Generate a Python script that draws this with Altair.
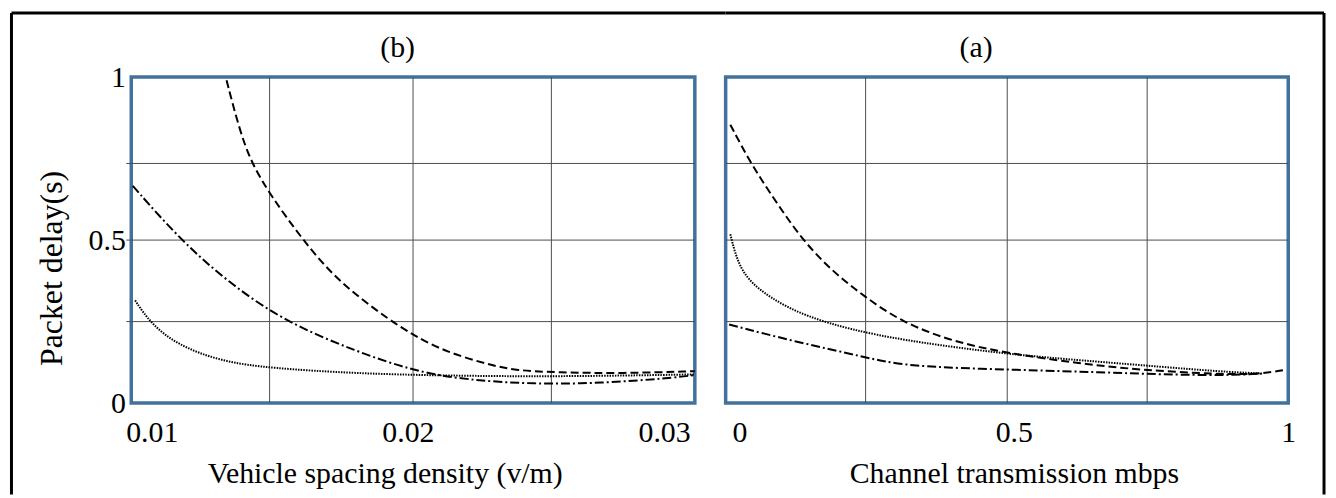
import altair as alt
import pandas as pd

# ---------------- data ----------------
SERIES = ["dash", "dashdot", "dot"]

# Panel (b): Vehicle spacing density (v/m)
b_dash_x = [0.01292, 0.0134, 0.01388, 0.01466, 0.01587, 0.01727, 0.01936, 0.02032, 0.02145, 0.02319, 0.02422, 0.0258, 0.02841, 0.0312]
b_dash_y = [0.99, 0.845, 0.737, 0.635, 0.503, 0.372, 0.25, 0.204, 0.158, 0.117, 0.10, 0.094, 0.091, 0.098]
b_dashdot_x = [0.00926, 0.01109, 0.01296, 0.01518, 0.01797, 0.02022, 0.02231, 0.02491, 0.02754, 0.03015, 0.0312]
b_dashdot_y = [0.666, 0.503, 0.372, 0.25, 0.159, 0.098, 0.071, 0.058, 0.061, 0.076, 0.086]
b_dot_x = [0.00935, 0.00996, 0.0110, 0.01274, 0.01466, 0.01797, 0.02145, 0.0258, 0.0312]
b_dot_y = [0.315, 0.244, 0.178, 0.127, 0.107, 0.091, 0.084, 0.081, 0.088]

# Panel (a): Channel transmission mbps
a_dash_x = [-0.0165, 0.0217, 0.0657, 0.1135, 0.1686, 0.2285, 0.294, 0.389, 0.4919, 0.6168, 0.7269, 0.874, 0.9475, 0.995]
a_dash_y = [0.854, 0.732, 0.62, 0.503, 0.405, 0.326, 0.25, 0.188, 0.152, 0.122, 0.102, 0.088, 0.089, 0.102]
a_dashdot_x = [-0.0187, 0.1025, 0.2274, 0.301, 0.5065, 0.6536, 0.8004, 0.9107, 0.9547]
a_dashdot_y = [0.241, 0.188, 0.142, 0.112, 0.102, 0.095, 0.086, 0.086, 0.091]
a_dot_x = [-0.0165, -0.008, 0.005, 0.0291, 0.0878, 0.1614, 0.2495, 0.3597, 0.5065, 0.6536, 0.7637, 0.874, 0.9475]
a_dot_y = [0.518, 0.46, 0.405, 0.355, 0.29, 0.244, 0.208, 0.178, 0.147, 0.127, 0.112, 0.097, 0.091]

b_xdomain = [0.0092, 0.0312]
b_xticks = [0.01, 0.02, 0.03]
b_vgrid = [0.0146, 0.0202, 0.0256]
a_xdomain = [-0.025, 1.0]
a_xticks = [0, 0.5, 1]
a_vgrid = [0.23, 0.488, 0.743]
y_ticks = [0, 0.5, 1]
h_grid = [0.25, 0.5, 0.735]

# ---------------- styling ----------------
FONT = "Liberation Serif"
BLUE = "#41719C"
GRID = "#4d4d4d"
DASHES = [[8, 4], [9, 3, 2, 3], [1.5, 1.2]]
WIDTHS = [2, 2, 1.7]
W_B, W_A, H = 567, 566, 328


def long_df(xs, ys):
    rows = []
    for s, (xv, yv) in zip(SERIES, zip(xs, ys)):
        for i, (a, b) in enumerate(zip(xv, yv)):
            rows.append({"x": a, "y": b, "s": s, "o": i})
    return pd.DataFrame(rows)


def panel(df, xdomain, xticks, xfmt, xtitle, xtitle_x, title, title_x,
          vgrid, W, show_y, left_border, right_border):
    xscale = alt.Scale(domain=xdomain, nice=False, zero=False)
    yscale = alt.Scale(domain=[0, 1], nice=False)
    xaxis = alt.Axis(values=xticks, format=xfmt, title=xtitle, labelFontSize=30,
                     labelPadding=15, labelFlush=False, titleFontSize=30,
                     titleX=xtitle_x, titleY=56, titleBaseline="top")
    if show_y:
        yaxis = alt.Axis(values=y_ticks, format="~g", title="Packet delay(s)",
                         labelFontSize=30, labelPadding=6, titleFontSize=32,
                         titleAngle=270, titleX=-70, titleY=192,
                         titleBaseline="alphabetic", titleAlign="center")
    else:
        yaxis = None

    lines = alt.Chart(df).mark_line(interpolate="basis", color="black", strokeCap="butt").encode(
        x=alt.X("x:Q", scale=xscale, axis=xaxis),
        y=alt.Y("y:Q", scale=yscale, axis=yaxis),
        strokeDash=alt.StrokeDash("s:N", scale=alt.Scale(domain=SERIES, range=DASHES), legend=None),
        strokeWidth=alt.StrokeWidth("s:N", scale=alt.Scale(domain=SERIES, range=WIDTHS), legend=None),
        order="o:Q",
    )
    vg = alt.Chart(pd.DataFrame({"x": vgrid})).mark_rule(color=GRID, strokeWidth=1).encode(
        x=alt.X("x:Q", scale=xscale, axis=xaxis),
        y=alt.value(0), y2=alt.value(H),
    )
    hg = alt.Chart(pd.DataFrame({"y": h_grid})).mark_rule(color=GRID, strokeWidth=1).encode(
        y=alt.Y("y:Q", scale=yscale, axis=yaxis),
        x=alt.value(-5 if show_y else 0), x2=alt.value(W),
    )
    one = pd.DataFrame({"k": [0]})
    ttl = alt.Chart(pd.DataFrame({"t": [title]})).mark_text(
        font=FONT, fontSize=30, color="black", baseline="alphabetic", align="center"
    ).encode(text="t:N", x=alt.value(title_x), y=alt.value(-20.5))
    layers = [vg, hg, lines, ttl]
    if left_border:
        layers.append(alt.Chart(one).mark_rule(color="black", strokeWidth=3).encode(
            x=alt.value(-120.5), y=alt.value(-64.5), y2=alt.value(420)))
        layers.append(alt.Chart(one).mark_rule(color="black", strokeWidth=3).encode(
            y=alt.value(-64.5), x=alt.value(-120.5), x2=alt.value(W + 31)))
    if right_border:
        layers.append(alt.Chart(one).mark_rule(color="black", strokeWidth=3).encode(
            x=alt.value(W + 36), y=alt.value(-64.5), y2=alt.value(420)))
        layers.append(alt.Chart(one).mark_rule(color="black", strokeWidth=3).encode(
            y=alt.value(-64.5), x=alt.value(0), x2=alt.value(W + 36)))
    return alt.layer(*layers).properties(width=W, height=H)


left = panel(long_df([b_dash_x, b_dashdot_x, b_dot_x], [b_dash_y, b_dashdot_y, b_dot_y]),
             b_xdomain, b_xticks, ".2f", "Vehicle spacing density (v/m)", 255, "(b)", 268,
             b_vgrid, W_B, True, True, False)
right = panel(long_df([a_dash_x, a_dashdot_x, a_dot_x], [a_dash_y, a_dashdot_y, a_dot_y]),
              a_xdomain, a_xticks, "~g", "Channel transmission mbps", 290, "(a)", 252,
              a_vgrid, W_A, False, False, True)

chart = alt.hconcat(left, right, spacing=31, bounds="flush").properties(
    padding={"left": 0, "top": 0, "right": 0, "bottom": 0},
    background="white",
).configure_view(
    stroke=BLUE, strokeWidth=3.5
).configure_axis(
    labelFont=FONT, titleFont=FONT, labelColor="black", titleColor="black",
    grid=False, domain=False, ticks=False, titleFontWeight="normal",
)

chart.save("out.html", embed_options={"renderer": "svg", "actions": False})
